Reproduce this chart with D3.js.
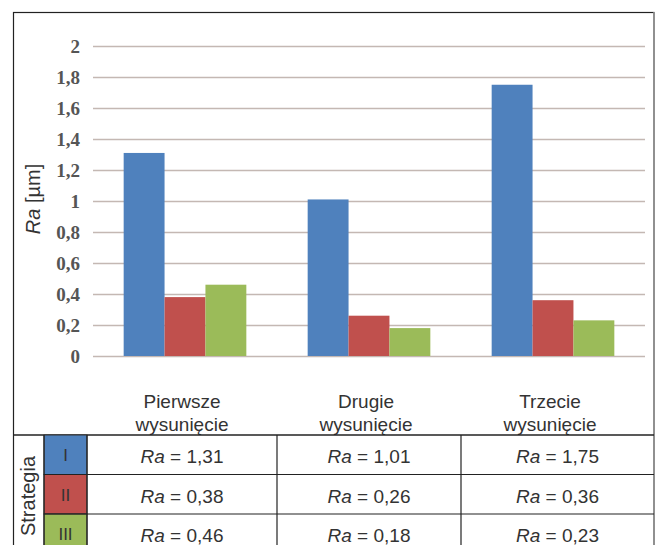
<!DOCTYPE html>
<html>
<head>
<meta charset="utf-8">
<script src="https://cdn.jsdelivr.net/npm/d3@7"></script>
<style>
  body { margin: 0; background: #fff; }
  svg { display: block; }
</style>
</head>
<body>
<div class="chart"></div>
<script>
// dane z wykresu
const categories = [["Pierwsze", "wysunięcie"], ["Drugie", "wysunięcie"], ["Trzecie", "wysunięcie"]];
const strategies = ["I", "II", "III"];
const seriesI = [1.31, 1.01, 1.75];
const seriesII = [0.38, 0.26, 0.36];
const seriesIII = [0.46, 0.18, 0.23];
const colors = ["#4f81bd", "#c0504d", "#9bbb59"];
const yTicks = [0, 0.2, 0.4, 0.6, 0.8, 1, 1.2, 1.4, 1.6, 1.8, 2];

const series = [seriesI, seriesII, seriesIII];

const width = 656, height = 545;
const svg = d3.select(".chart").append("svg")
  .attr("width", width)
  .attr("height", height);

// ramka
svg.append("rect")
  .attr("x", 13.5).attr("y", 12.5)
  .attr("width", 640.5).attr("height", 540)
  .attr("fill", "none").attr("stroke", "#222").attr("stroke-width", 1.2);
svg.append("line")
  .attr("x1", 654).attr("x2", 654).attr("y1", 12).attr("y2", 545)
  .attr("stroke", "#999").attr("stroke-width", 1.5);

const plotLeft = 93, plotRight = 645, plotTop = 46, plotBottom = 356;

const x = d3.scaleBand()
  .domain(d3.range(categories.length))
  .range([plotLeft, plotRight]);

const xInner = d3.scaleBand()
  .domain(d3.range(strategies.length))
  .range([0, x.bandwidth()])
  .paddingOuter(0.75)
  .paddingInner(0);

const y = d3.scaleLinear()
  .domain([0, 2])
  .range([plotBottom, plotTop]);

// linie siatki
svg.append("g")
  .selectAll("line")
  .data(yTicks)
  .enter()
  .append("line")
  .attr("x1", plotLeft).attr("x2", plotRight)
  .attr("y1", d => Math.round(y(d)) + 0.5)
  .attr("y2", d => Math.round(y(d)) + 0.5)
  .attr("stroke", "#c4b8b3")
  .attr("stroke-width", 1.5);

// oś Y
const yAxis = d3.axisLeft(y)
  .tickValues(yTicks)
  .tickSize(0)
  .tickPadding(0)
  .tickFormat(d => String(d).replace(".", ","));

const gy = svg.append("g")
  .attr("transform", "translate(80,0)")
  .call(yAxis);
gy.select(".domain").remove();
gy.attr("font-size", null).attr("font-family", null);
gy.selectAll("text")
  .style("font-family", "'Liberation Serif', 'DejaVu Serif', serif")
  .style("font-size", "19px")
  .style("font-weight", "bold")
  .attr("fill", "#555");

// słupki
const groups = svg.append("g")
  .selectAll("g")
  .data(categories)
  .enter()
  .append("g")
  .attr("transform", (d, i) => "translate(" + x(i) + ",0)");

groups.selectAll("rect")
  .data((d, i) => series.map((s, j) => ({ j: j, v: s[i] })))
  .enter()
  .append("rect")
  .attr("x", d => xInner(d.j))
  .attr("width", xInner.bandwidth())
  .attr("y", d => y(d.v))
  .attr("height", d => y(0) - y(d.v))
  .attr("fill", d => colors[d.j]);

const sans = "'Liberation Sans', Arial, sans-serif";

// tytuł osi Y
const yTitle = svg.append("text")
  .attr("transform", "translate(40,199) rotate(-90)")
  .attr("text-anchor", "middle")
  .style("font-family", sans)
  .style("font-size", "20px")
  .attr("fill", "#333");
yTitle.append("tspan").attr("font-style", "italic").text("Ra");
yTitle.append("tspan").text(" [µm]");

// etykiety kategorii
const catLabels = svg.append("g")
  .selectAll("text")
  .data(categories)
  .enter()
  .append("text")
  .attr("text-anchor", "middle")
  .style("font-family", sans)
  .style("font-size", "19px")
  .attr("fill", "#333")
  .attr("transform", (d, i) => "translate(" + (x(i) + x.bandwidth() / 2 - 3) + ",0)");

catLabels.selectAll("tspan")
  .data(d => d)
  .enter()
  .append("tspan")
  .attr("x", 0)
  .attr("y", (d, i) => 408 + i * 23)
  .text(d => d);

// tabela
const tableTop = 435, rowH = 39.5;
const colEdges = [87, x(1), x(2), 654];

svg.append("line")
  .attr("x1", 13).attr("x2", 654)
  .attr("y1", tableTop).attr("y2", tableTop)
  .attr("stroke", "#222").attr("stroke-width", 1.3);

// pola kolorów
svg.append("g")
  .selectAll("rect")
  .data(strategies)
  .enter()
  .append("rect")
  .attr("x", 44)
  .attr("y", (d, i) => tableTop + i * rowH)
  .attr("width", 43)
  .attr("height", rowH)
  .attr("fill", (d, i) => colors[i])
  .attr("stroke", "#333")
  .attr("stroke-width", 1);

svg.append("g")
  .selectAll("text")
  .data(strategies)
  .enter()
  .append("text")
  .attr("x", 65.5)
  .attr("y", (d, i) => tableTop + i * rowH + 26)
  .attr("text-anchor", "middle")
  .style("font-family", sans)
  .style("font-size", "17px")
  .attr("fill", "#333")
  .text(d => d);

svg.append("text")
  .attr("transform", "translate(35,496) rotate(-90)")
  .attr("text-anchor", "middle")
  .style("font-family", sans)
  .style("font-size", "20px")
  .attr("fill", "#333")
  .text("Strategia");

svg.append("line")
  .attr("x1", 44).attr("x2", 44)
  .attr("y1", tableTop).attr("y2", 545)
  .attr("stroke", "#222").attr("stroke-width", 1.2);

// linie wierszy
svg.append("g")
  .selectAll("line")
  .data([1, 2])
  .enter()
  .append("line")
  .attr("x1", 44).attr("x2", 654)
  .attr("y1", d => tableTop + d * rowH)
  .attr("y2", d => tableTop + d * rowH)
  .attr("stroke", "#222").attr("stroke-width", 1.2);

// linie kolumn
svg.append("g")
  .selectAll("line")
  .data(colEdges.slice(0, 3))
  .enter()
  .append("line")
  .attr("x1", d => d).attr("x2", d => d)
  .attr("y1", tableTop).attr("y2", 545)
  .attr("stroke", "#222").attr("stroke-width", 1.2);

// wartości w komórkach
const cells = [];
series.forEach((s, r) => s.forEach((v, c) => cells.push({ r: r, c: c, v: v })));

const cellText = svg.append("g")
  .selectAll("text")
  .data(cells)
  .enter()
  .append("text")
  .attr("x", d => (colEdges[d.c] + colEdges[d.c + 1]) / 2)
  .attr("y", d => tableTop + d.r * rowH + 28)
  .attr("text-anchor", "middle")
  .style("font-family", sans)
  .style("font-size", "19px")
  .attr("fill", "#333");

cellText.append("tspan").attr("font-style", "italic").text("Ra");
cellText.append("tspan").text(d => " = " + d3.format(".2f")(d.v).replace(".", ","));
</script>
</body>
</html>
